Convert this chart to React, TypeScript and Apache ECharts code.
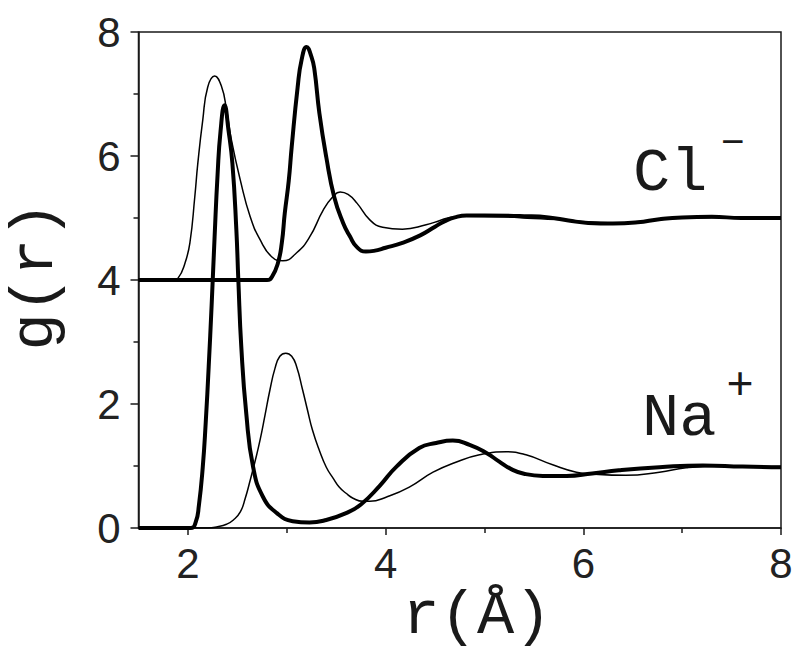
import React, { useEffect, useRef } from "react";
import * as echarts from "echarts";

// x ticks / labels
const xTickValues = [2, 4, 6, 8];

// Cl- curves (shifted by +4)
const clThin: number[][] = [
  [1.5, 4.0], [1.85, 4.0], [1.9, 4.03], [1.97, 4.27], [2.02, 4.6], [2.07, 5.35], [2.1, 5.88],
  [2.15, 6.58], [2.2, 7.11], [2.27, 7.29], [2.34, 7.12], [2.39, 6.75], [2.44, 6.26], [2.53, 5.61],
  [2.63, 5.02], [2.73, 4.65], [2.85, 4.37], [2.96, 4.31], [3.1, 4.44], [3.23, 4.69], [3.37, 5.13],
  [3.47, 5.35], [3.54, 5.42], [3.62, 5.38], [3.71, 5.24], [3.84, 4.97], [3.97, 4.85], [4.17, 4.82],
  [4.41, 4.89], [4.55, 4.96], [4.65, 5.01], [4.8, 5.03], [5.2, 5.02], [5.5, 4.99], [5.8, 4.97],
  [6.1, 4.93], [6.4, 4.92], [6.7, 4.96], [7.0, 5.0], [7.4, 5.01], [8.0, 5.0],
];
const clThick: number[][] = [
  [1.5, 4.0], [2.8, 4.0], [2.85, 4.05], [2.91, 4.27], [2.95, 4.6], [2.98, 5.08], [3.02, 5.6],
  [3.05, 6.15], [3.11, 7.11], [3.15, 7.55], [3.2, 7.76], [3.25, 7.6], [3.28, 7.39], [3.33, 6.69],
  [3.4, 5.98], [3.48, 5.34], [3.57, 4.92], [3.64, 4.7], [3.71, 4.53], [3.8, 4.46], [3.88, 4.47],
  [4.0, 4.52], [4.17, 4.6], [4.35, 4.72], [4.5, 4.86], [4.6, 4.95], [4.7, 5.01], [4.82, 5.04],
  [5.0, 5.04], [5.4, 5.03], [5.65, 5.01], [5.85, 4.96], [6.05, 4.92], [6.3, 4.91], [6.55, 4.93],
  [6.77, 4.98], [7.0, 5.01], [7.3, 5.02], [7.6, 5.0], [8.0, 5.0],
];

// Na+ curves
const naThick: number[][] = [
  [1.5, 0], [2.03, 0], [2.08, 0.1], [2.11, 0.35], [2.15, 0.98], [2.18, 1.7], [2.21, 2.6],
  [2.24, 3.6], [2.27, 4.7], [2.3, 5.7], [2.33, 6.4], [2.37, 6.82], [2.41, 6.42], [2.45, 5.88],
  [2.49, 4.81], [2.51, 4.0], [2.54, 2.92], [2.59, 1.85], [2.66, 0.98], [2.76, 0.5], [2.9, 0.24],
  [3.06, 0.11], [3.23, 0.09], [3.4, 0.13], [3.6, 0.24], [3.75, 0.38], [3.94, 0.68], [4.11, 0.99],
  [4.34, 1.29], [4.51, 1.37], [4.68, 1.41], [4.85, 1.34], [5.02, 1.21], [5.15, 1.07], [5.27, 0.95],
  [5.4, 0.875], [5.59, 0.84], [5.83, 0.84], [6.09, 0.88], [6.36, 0.93], [6.77, 0.98], [7.21, 1.01],
  [7.61, 0.99], [8.0, 0.98],
];
const naThin: number[][] = [
  [1.5, 0], [2.2, 0], [2.3, 0.02], [2.39, 0.06], [2.46, 0.13], [2.53, 0.26], [2.58, 0.48],
  [2.63, 0.77], [2.68, 1.08], [2.73, 1.42], [2.78, 1.82], [2.83, 2.23], [2.88, 2.57], [2.93, 2.77],
  [2.99, 2.82], [3.05, 2.77], [3.1, 2.6], [3.16, 2.23], [3.21, 1.9], [3.26, 1.58], [3.33, 1.25],
  [3.4, 0.98], [3.47, 0.8], [3.53, 0.66], [3.6, 0.56], [3.67, 0.48], [3.77, 0.43], [3.84, 0.43],
  [4.01, 0.5], [4.24, 0.66], [4.48, 0.9], [4.71, 1.06], [4.95, 1.18], [5.22, 1.23], [5.42, 1.18],
  [5.69, 1.02], [5.93, 0.9], [6.09, 0.87], [6.43, 0.85], [6.77, 0.9], [7.04, 0.97], [7.4, 1.0],
  [8.0, 0.99],
];

const MONO = "'Liberation Mono', 'DejaVu Sans Mono', monospace";
const SANS = "'Liberation Sans', Arial, sans-serif";
const AXIS_COLOR = "#1a1a1a";

export default function App() {
  const ref = useRef<HTMLDivElement>(null);
  useEffect(() => {
    if (!ref.current) return;
    const chart = echarts.init(ref.current, null, { renderer: "svg" });
    const lineSeries = (name: string, data: number[][], width: number) => ({
      name,
      type: "line",
      data,
      showSymbol: false,
      smooth: 0.5,
      lineStyle: { color: "#000", width },
      z: width > 2 ? 3 : 2,
    });
    chart.setOption({
      animation: false,
      backgroundColor: "#fff",
      grid: {
        left: 138.5,
        right: 19,
        top: 32,
        bottom: 130,
        show: true,
        borderColor: AXIS_COLOR,
        borderWidth: 1.5,
      },
      xAxis: {
        type: "value",
        min: 1.5,
        max: 8,
        minInterval: 2,
        maxInterval: 2,
        splitLine: { show: false },
        axisLine: { show: true, onZero: false, lineStyle: { color: AXIS_COLOR, width: 1.5 } },
        axisTick: { show: true, inside: false, length: 7, customValues: xTickValues, lineStyle: { color: AXIS_COLOR, width: 1.5 } },
        minorTick: { show: true, splitNumber: 2, length: 5, lineStyle: { color: AXIS_COLOR, width: 1.5 } },
        axisLabel: {
          customValues: xTickValues,
          margin: 14,
          fontFamily: SANS,
          fontSize: 42,
          color: "#222",
        },
      },
      yAxis: {
        type: "value",
        min: 0,
        max: 8,
        interval: 2,
        splitLine: { show: false },
        axisLine: { show: true, onZero: false, lineStyle: { color: AXIS_COLOR, width: 1.5 } },
        axisTick: { show: true, inside: false, length: 8, lineStyle: { color: AXIS_COLOR, width: 1.5 } },
        minorTick: { show: true, splitNumber: 2, length: 5, lineStyle: { color: AXIS_COLOR, width: 1.5 } },
        axisLabel: {
          margin: 18,
          fontFamily: SANS,
          fontSize: 42,
          color: "#222",
        },
      },
      series: [
        lineSeries("Cl thin", clThin, 1.5),
        lineSeries("Cl thick", clThick, 4),
        lineSeries("Na thin", naThin, 1.5),
        lineSeries("Na thick", naThick, 4),
      ],
      graphic: [
        { type: "text", x: 633, y: 173, style: { text: "Cl", font: `62px ${MONO}`, fill: "#1a1a1a", textAlign: "left", textVerticalAlign: "middle" } },
        { type: "text", x: 733, y: 144, style: { text: "−", font: `40px ${MONO}`, fill: "#1a1a1a", textAlign: "center", textVerticalAlign: "middle" } },
        { type: "text", x: 642, y: 418, style: { text: "Na", font: `62px ${MONO}`, fill: "#1a1a1a", textAlign: "left", textVerticalAlign: "middle" } },
        { type: "text", x: 740, y: 387, style: { text: "+", font: `46px ${MONO}`, fill: "#1a1a1a", textAlign: "center", textVerticalAlign: "middle" } },
        { type: "text", x: 477, y: 616, style: { text: "r(Å)", font: `62px ${MONO}`, fill: "#1a1a1a", textAlign: "center", textVerticalAlign: "middle" } },
        { type: "text", x: 35, y: 276, rotation: Math.PI / 2, style: { text: "g(r)", font: `62px ${MONO}`, fill: "#1a1a1a", textAlign: "center", textVerticalAlign: "middle" } },
      ],
    });
    return () => chart.dispose();
  }, []);
  return (
    <div
      ref={ref}
      style={{ position: "fixed", left: 0, top: 0, width: 800, height: 658, background: "#fff" }}
    />
  );
}
